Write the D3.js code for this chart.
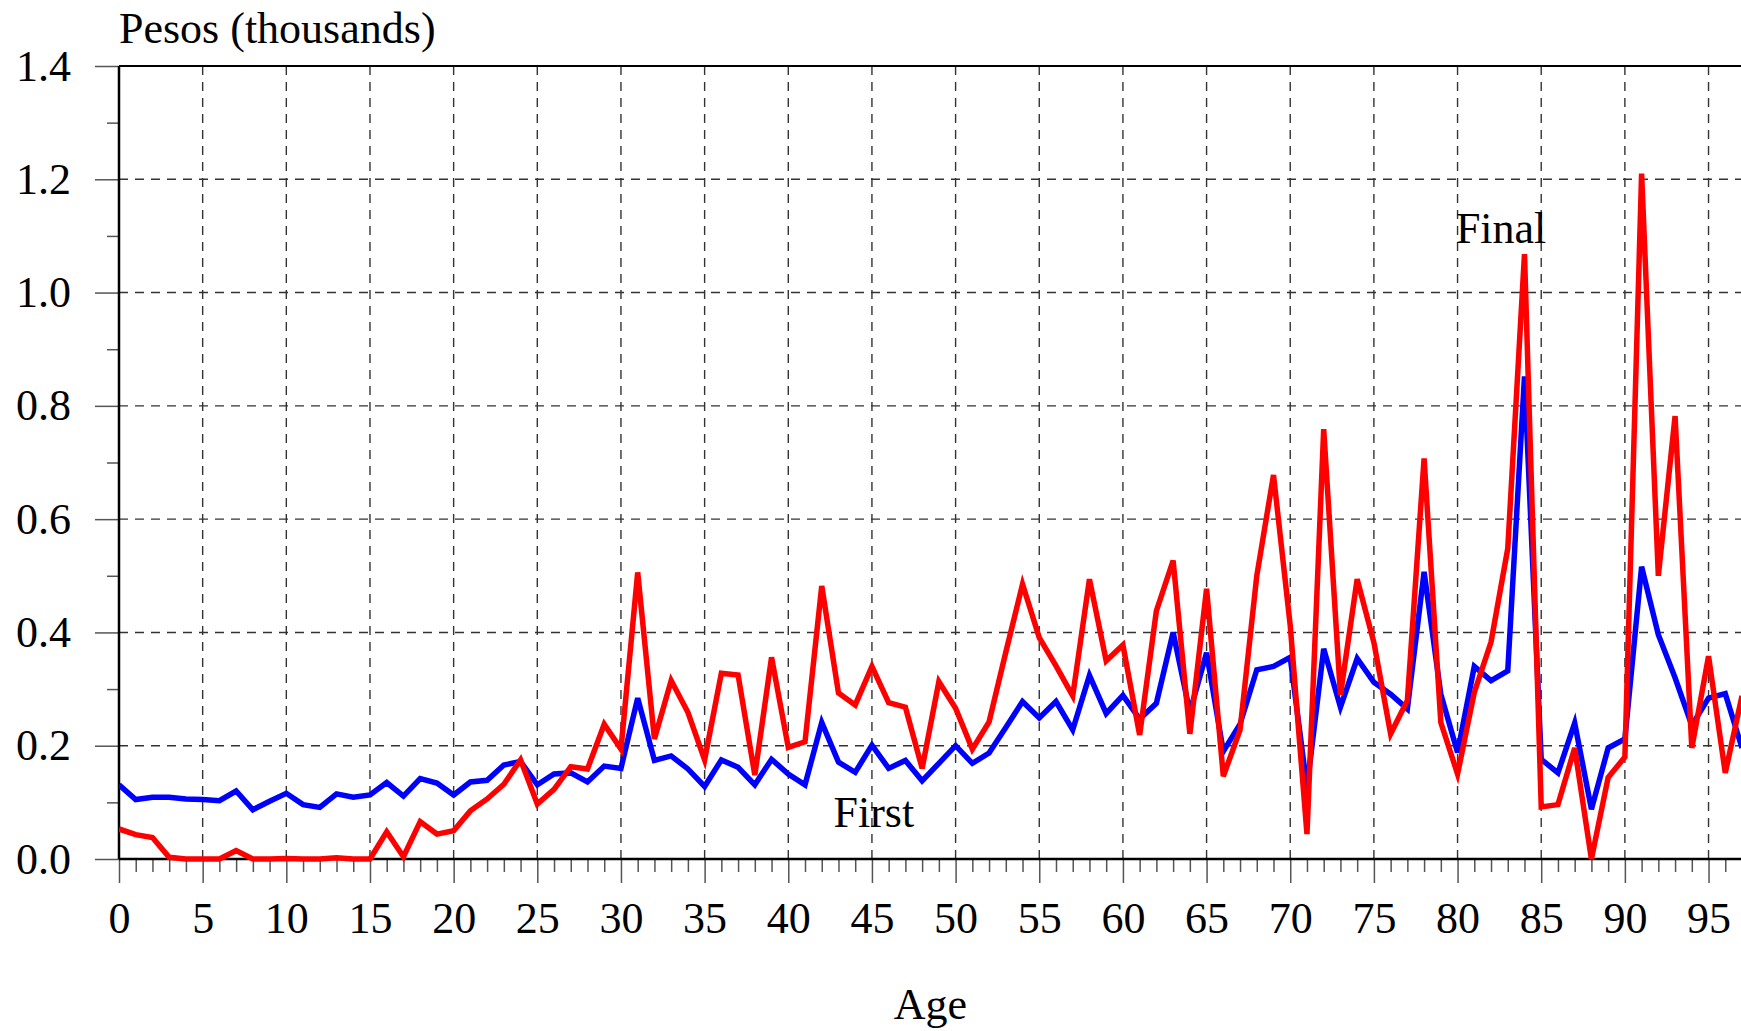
<!DOCTYPE html>
<html>
  <head>
    <title>Pesos by Age</title>
    <script src="https://cdn.jsdelivr.net/npm/d3@7"></script>
    <style>
      body { margin: 0; background: #fff; }
      text { font-family: "Liberation Serif", "Times New Roman", serif; fill: #000; }
    </style>
  </head>
  <body>
    <svg width="1741" height="1031" id="mainsvg"></svg>
    <script>
      // ages 0..97 (plot is cut at the right edge)
      const ages = d3.range(0, 98);
      const firstValues = [0.131, 0.105, 0.109, 0.109, 0.106, 0.105, 0.103, 0.120, 0.087, 0.102,
        0.116, 0.096, 0.091, 0.115, 0.109, 0.113, 0.135, 0.111, 0.142, 0.134,
        0.113, 0.136, 0.139, 0.166, 0.172, 0.131, 0.150, 0.152, 0.136, 0.164,
        0.160, 0.284, 0.174, 0.182, 0.159, 0.128, 0.175, 0.162, 0.131, 0.176,
        0.150, 0.131, 0.241, 0.171, 0.153, 0.201, 0.160, 0.174, 0.138, 0.169,
        0.200, 0.169, 0.187, 0.232, 0.278, 0.249, 0.278, 0.228, 0.324, 0.257,
        0.289, 0.247, 0.275, 0.400, 0.259, 0.364, 0.190, 0.238, 0.334, 0.340,
        0.356, 0.126, 0.371, 0.268, 0.354, 0.312, 0.291, 0.265, 0.507, 0.291,
        0.188, 0.340, 0.315, 0.332, 0.852, 0.176, 0.152, 0.240, 0.088, 0.196,
        0.212, 0.516, 0.396, 0.320, 0.236, 0.284, 0.292, 0.196];
      const finalValues = [0.053, 0.043, 0.038, 0.003, 0.000, 0.000, 0.000, 0.015, 0.000, 0.000,
        0.001, 0.000, 0.000, 0.002, 0.000, 0.000, 0.048, 0.004, 0.066, 0.044,
        0.050, 0.085, 0.106, 0.132, 0.175, 0.097, 0.123, 0.163, 0.159, 0.238,
        0.194, 0.506, 0.212, 0.315, 0.259, 0.175, 0.328, 0.325, 0.148, 0.356,
        0.197, 0.207, 0.482, 0.293, 0.272, 0.340, 0.276, 0.268, 0.160, 0.313,
        0.266, 0.194, 0.242, 0.365, 0.485, 0.391, 0.341, 0.288, 0.494, 0.350,
        0.378, 0.219, 0.438, 0.527, 0.221, 0.477, 0.146, 0.228, 0.500, 0.678,
        0.412, 0.044, 0.759, 0.290, 0.494, 0.382, 0.221, 0.280, 0.707, 0.241,
        0.150, 0.294, 0.383, 0.548, 1.068, 0.092, 0.096, 0.196, 0.000, 0.144,
        0.180, 1.210, 0.500, 0.782, 0.196, 0.358, 0.152, 0.288];
      const yTicks = [0, 0.2, 0.4, 0.6, 0.8, 1.0, 1.2, 1.4];
      const xTicks = d3.range(0, 100, 5);
      const yLabel = 'Pesos (thousands)';
      const xLabel = 'Age';
      const seriesLabels = [
        {text: 'First', age: 42.7, value: 0.057},
        {text: 'Final', age: 79.9, value: 1.087}
      ];

      const svg = d3.select('#mainsvg');
      const width = +svg.attr('width');
      const height = +svg.attr('height');
      const margin = {top: 66, right: 0, bottom: 172, left: 119};
      const innerWidth = width - margin.left - margin.right;
      const innerHeight = height - margin.top - margin.bottom;
      const fontSize = 44;

      const xScale = d3.scaleLinear().domain([0, 97]).range([0, innerWidth + 1]);
      const yScale = d3.scaleLinear().domain([0, 1.4]).range([innerHeight, 0]);

      const g = svg.append('g')
        .attr('transform', `translate(${margin.left}, ${margin.top})`)
        .attr('id', 'maingroup');

      g.append('clipPath').attr('id', 'plotclip')
        .append('rect')
        .attr('x', 0).attr('y', -10)
        .attr('width', innerWidth).attr('height', innerHeight + 20);

      // dashed grid
      g.append('g').selectAll('line.vgrid')
        .data(xTicks.filter(d => d > 0))
        .join('line')
        .attr('class', 'vgrid')
        .attr('x1', d => xScale(d)).attr('x2', d => xScale(d))
        .attr('y1', 0).attr('y2', innerHeight)
        .attr('stroke', '#333').attr('stroke-width', 1.4)
        .attr('stroke-dasharray', '9,7');
      g.append('g').selectAll('line.hgrid')
        .data(yTicks.filter(d => d > 0 && d < 1.4))
        .join('line')
        .attr('class', 'hgrid')
        .attr('x1', 0).attr('x2', innerWidth)
        .attr('y1', d => yScale(d)).attr('y2', d => yScale(d))
        .attr('stroke', '#333').attr('stroke-width', 1.4)
        .attr('stroke-dasharray', '9,7');

      // x axis: minor ticks each year, major every 5
      const xAxisMinor = d3.axisBottom(xScale)
        .tickValues(ages.filter(d => d % 5 !== 0))
        .tickSize(13).tickFormat('');
      const xAxisMajor = d3.axisBottom(xScale)
        .tickValues(xTicks)
        .tickSize(24).tickPadding(19)
        .tickFormat(d3.format('d'));
      const xMinorGroup = g.append('g').attr('transform', `translate(0, ${innerHeight})`).call(xAxisMinor);
      const xMajorGroup = g.append('g').attr('transform', `translate(0, ${innerHeight})`).call(xAxisMajor);
      [xMinorGroup, xMajorGroup].forEach(ax => {
        ax.selectAll('.domain').remove();
        ax.selectAll('.tick line').attr('stroke', '#555').attr('stroke-width', 1.5);
      });
      xMinorGroup.selectAll('.tick text').remove();
      xMajorGroup.selectAll('.tick text')
        .attr('font-size', fontSize)
        .attr('font-family', '"Liberation Serif", serif')
        .attr('fill', '#000');

      // y axis: major every 0.2, minor every 0.1
      const yAxisMinor = d3.axisLeft(yScale)
        .tickValues([0.1, 0.3, 0.5, 0.7, 0.9, 1.1, 1.3])
        .tickSize(12).tickFormat('');
      const yAxisMajor = d3.axisLeft(yScale)
        .tickValues(yTicks)
        .tickSize(24).tickPadding(24)
        .tickFormat(d3.format('.1f'));
      const yMinorGroup = g.append('g').call(yAxisMinor);
      const yMajorGroup = g.append('g').call(yAxisMajor);
      [yMinorGroup, yMajorGroup].forEach(ax => {
        ax.selectAll('.domain').remove();
        ax.selectAll('.tick line').attr('stroke', '#555').attr('stroke-width', 1.5);
      });
      yMinorGroup.selectAll('.tick text').remove();
      yMajorGroup.selectAll('.tick text')
        .attr('font-size', fontSize)
        .attr('font-family', '"Liberation Serif", serif')
        .attr('fill', '#000');

      // frame: left, bottom and top lines (right side is cut off)
      g.append('line').attr('x1', 0).attr('x2', 0).attr('y1', 0).attr('y2', innerHeight)
        .attr('stroke', '#000').attr('stroke-width', 2.5);
      g.append('line').attr('x1', 0).attr('x2', innerWidth).attr('y1', innerHeight).attr('y2', innerHeight)
        .attr('stroke', '#000').attr('stroke-width', 2.5);
      g.append('line').attr('x1', 0).attr('x2', innerWidth).attr('y1', 0).attr('y2', 0)
        .attr('stroke', '#000').attr('stroke-width', 2);

      // series lines
      const line = d3.line()
        .x((d, i) => xScale(ages[i]))
        .y(d => yScale(d));
      const lines = g.append('g').attr('clip-path', 'url(#plotclip)');
      lines.append('path')
        .datum(firstValues)
        .attr('fill', 'none').attr('stroke', '#0000ff').attr('stroke-width', 5.5)
        .attr('d', line);
      lines.append('path')
        .datum(finalValues)
        .attr('fill', 'none').attr('stroke', '#ff0000').attr('stroke-width', 5.5)
        .attr('d', line);

      // series labels
      g.selectAll('text.series')
        .data(seriesLabels)
        .join('text')
        .attr('class', 'series')
        .attr('x', d => xScale(d.age))
        .attr('y', d => yScale(d.value))
        .attr('font-size', fontSize)
        .text(d => d.text);

      // axis titles
      svg.append('text')
        .attr('x', margin.left)
        .attr('y', 43)
        .attr('font-size', fontSize)
        .text(yLabel);
      svg.append('text')
        .attr('x', margin.left + xScale(48.5))
        .attr('y', 1019)
        .attr('text-anchor', 'middle')
        .attr('font-size', fontSize)
        .text(xLabel);
    </script>
  </body>
</html>
